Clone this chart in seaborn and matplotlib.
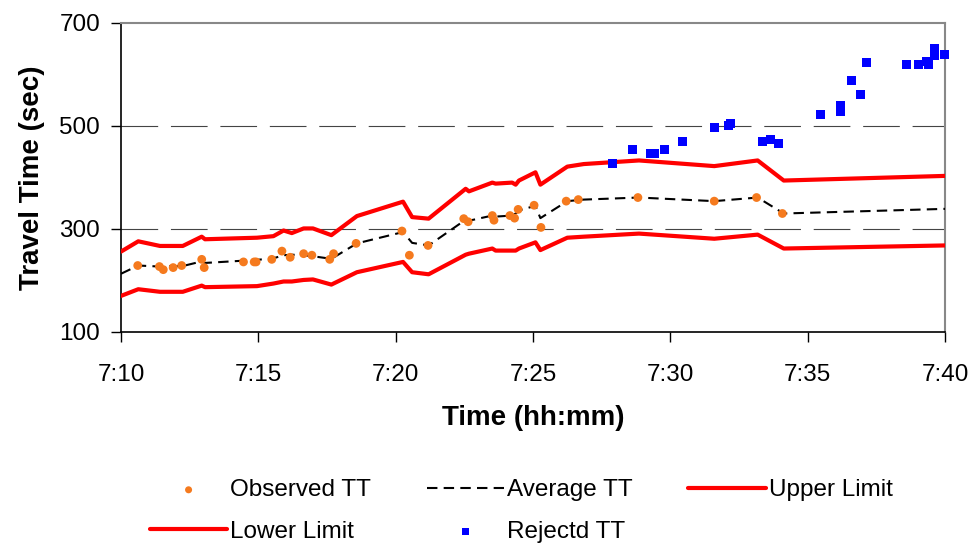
import seaborn as sns
import matplotlib.pyplot as plt
import pandas as pd

# time axis in minutes after 7:00
line_min = [10.0, 10.63, 11.42, 12.25, 12.94, 13.06, 14.95, 15.55, 15.92, 16.22, 16.65,
            16.99, 17.66, 18.59, 20.27, 20.6, 21.2, 22.55, 22.67, 23.52, 23.64, 24.24,
            24.37, 24.49, 25.09, 25.27, 26.25, 26.85, 28.86, 31.6, 33.18, 34.13, 40.0]
upper_tt = [256, 276, 267, 267, 285, 280, 283, 286, 297, 292, 301, 301, 288, 325, 353, 323,
            320, 378, 373, 390, 388, 390, 386, 394, 410, 386, 421, 426, 433, 422, 433, 394, 403]
lower_tt = [170, 183, 178, 178, 190, 187, 189, 194, 198, 198, 201, 202, 192, 216, 236, 216,
            212, 250, 252, 262, 258, 258, 258, 262, 274, 259, 283, 285, 291, 281, 289, 262, 268]
avg_tt = [213, 229, 227, 228, 237, 234, 240, 243, 249, 250, 249, 247, 242, 272, 294, 273,
          268, 318, 316, 326, 324, 326, 330, 336, 345, 321, 354, 357, 361, 354, 361, 330, 339]

obs_min = [10.61, 11.40, 11.54, 11.90, 12.21, 12.94, 13.03, 14.46, 14.85, 14.92, 15.49, 15.86,
           16.16, 16.65, 16.95, 17.60, 17.74, 18.56, 20.23, 20.50, 21.18, 22.48, 22.64, 23.52,
           23.58, 24.16, 24.33, 24.46, 25.04, 25.29, 26.21, 26.65, 28.82, 31.60, 33.14, 34.08]
obs_tt = [229, 227, 221, 225, 229, 241, 225, 236, 236, 236, 241, 257, 245, 252, 249, 241, 252,
          272, 296, 249, 268, 320, 314, 326, 317, 326, 321, 338, 346, 303, 354, 357, 361, 354,
          361, 330]

rej_min = [27.89, 28.62, 29.27, 29.41, 29.78, 30.44, 31.60, 32.11, 32.18, 33.36, 33.64, 33.93,
           35.46, 36.19, 36.19, 36.58, 36.92, 37.15, 38.61, 39.04, 39.31, 39.41, 39.61, 39.61, 39.98]
rej_tt = [428, 454, 446, 446, 454, 470, 497, 500, 504, 469, 474, 465, 523, 539, 528, 589, 562,
          624, 620, 620, 625, 620, 650, 636, 639]

x_ticks = [10, 15, 20, 25, 30, 35, 40]
y_ticks = [100, 300, 500, 700]

sns.set_theme(style='white')
plt.rcParams['font.family'] = ['Liberation Sans', 'DejaVu Sans']
plt.rcParams['text.color'] = 'black'

lines = pd.DataFrame({'t': line_min, 'upper': upper_tt, 'lower': lower_tt, 'avg': avg_tt})
obs = pd.DataFrame({'t': obs_min, 'tt': obs_tt})
rej = pd.DataFrame({'t': rej_min, 'tt': rej_tt})

fig = plt.figure(figsize=(9.74, 5.47), dpi=100)
ax = fig.add_axes([0.1242, 0.3931, 0.846, 0.5650])

# gridlines first so the data sits on top
for yv in [300, 500]:
    ax.axhline(yv, color='#444444', lw=0.8, ls=(0, (33, 11.5)), zorder=1)

sns.scatterplot(data=obs, x='t', y='tt', ax=ax, color='#F57A1E', s=40, marker='o',
                edgecolor='none', label='Observed TT', zorder=4)
sns.lineplot(data=lines, x='t', y='avg', ax=ax, color='black', lw=1.5, estimator=None,
             label='Average TT', zorder=3)
ax.lines[-1].set_linestyle((0, (5, 3)))
sns.lineplot(data=lines, x='t', y='upper', ax=ax, color='#FF0000', lw=3, estimator=None,
             label='Upper Limit', zorder=3)
sns.lineplot(data=lines, x='t', y='lower', ax=ax, color='#FF0000', lw=3, estimator=None,
             label='Lower Limit', zorder=3)
sns.scatterplot(data=rej, x='t', y='tt', ax=ax, color='#0000FF', s=42, marker='s',
                edgecolor='none', label='Rejectd TT', zorder=4, clip_on=False)

ax.set_xlim(10, 40)
ax.set_ylim(100, 700)
ax.set_xticks(x_ticks)
ax.set_xticklabels([f'7:{m:02d}' for m in x_ticks])
ax.set_yticks(y_ticks)
ax.tick_params(axis='both', direction='out', length=7, width=1, color='black',
               labelsize=17.5, labelcolor='black', bottom=True, left=True)
ax.tick_params(axis='x', pad=16)
ax.tick_params(axis='y', pad=8)

for side in ['left', 'bottom']:
    ax.spines[side].set_color('black')
    ax.spines[side].set_linewidth(1.2)
for side in ['top', 'right']:
    ax.spines[side].set_color('#888888')
    ax.spines[side].set_linewidth(1.5)

ax.set_xlabel('Time (hh:mm)', fontsize=20, fontweight='bold', labelpad=14, color='black')
ax.set_ylabel('Travel Time (sec)', fontsize=20, fontweight='bold', labelpad=10, color='black')

handles, labels = ax.get_legend_handles_labels()
ax.get_legend().remove()
order = [0, 3, 1, 4, 2]  # row-wise: Observed, Average, Upper / Lower, Rejectd
fig.legend([handles[i] for i in order], [labels[i] for i in order], ncol=3,
           loc='center', bbox_to_anchor=(0.535, 0.066), frameon=False, fontsize=17.5,
           handlelength=3.2, handletextpad=0.1, columnspacing=2.3, labelspacing=0.8,
           markerscale=0.8, labelcolor='black')

fig.savefig('out.png', dpi=100, facecolor='white')
